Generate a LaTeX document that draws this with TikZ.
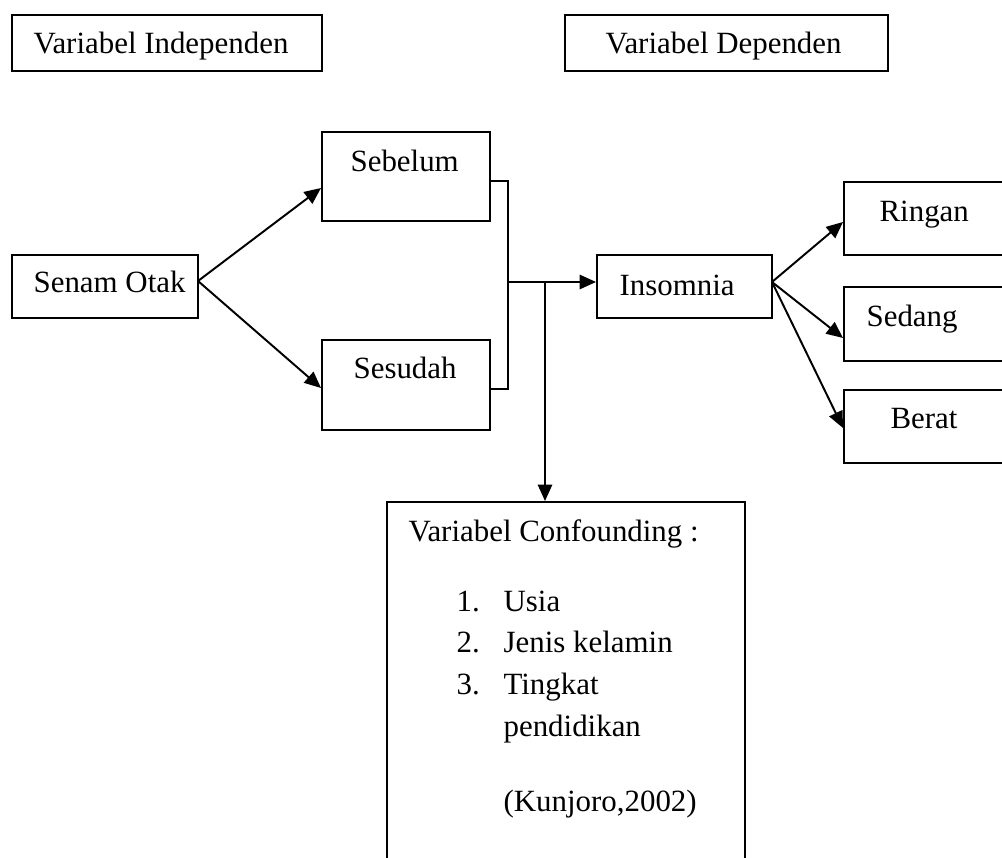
\documentclass[tikz,border=0pt]{standalone}
\usepackage{fontspec}
\setmainfont{Liberation Serif}
\usetikzlibrary{fit,arrows.meta}
\begin{document}
\begin{tikzpicture}[x=0.3333pt,y=-0.3333pt,
  box/.style={draw, line width=0.65pt, inner sep=0pt},
  txt/.style={anchor=base west, inner sep=0pt, font=\fontsize{10.3}{13.8}\selectfont},
  conn/.style={line width=0.65pt},
  arr/.style={line width=0.65pt, -{Triangle[length=5.5pt,width=4.8pt]}}]
\useasboundingbox (0,0) rectangle (1002,858);
\clip (0,0) rectangle (1002,858);
% boxes
\node[box, fit={(12,15) (322,71)}] (indep) {};
\node[box, fit={(565,15) (888,71)}] (dep) {};
\node[box, fit={(322,132) (490,221)}] (sebelum) {};
\node[box, fit={(322,340) (490,430)}] (sesudah) {};
\node[box, fit={(12,255) (198,318)}] (senam) {};
\node[box, fit={(597,255) (772,318)}] (insomnia) {};
\node[box, fit={(844,182) (1020,255)}] (ringan) {};
\node[box, fit={(844,287) (1020,361)}] (sedang) {};
\node[box, fit={(844,390) (1020,463)}] (berat) {};
\node[box, fit={(387,502) (745,880)}] (conf) {};
% texts
\node[txt] (tindep) at (33,54) {Variabel Independen};
\node[txt] (tdep) at (605,54) {Variabel Dependen};
\node[txt] (tsebelum) at (350,172) {Sebelum};
\node[txt] (tsesudah) at (353,379) {Sesudah};
\node[txt] (tsenam) at (33,293) {Senam Otak};
\node[txt] (tinsomnia) at (619,296) {Insomnia};
\node[txt] (tringan) at (879,222) {Ringan};
\node[txt] (tsedang) at (866,327) {Sedang};
\node[txt] (tberat) at (890,429) {Berat};
\node[txt] (tconf) at (408,542) {Variabel Confounding :};
\node[txt] (n1) at (456,612) {1.};
\node[txt] (i1) at (503,612) {Usia};
\node[txt] (n2) at (456,653) {2.};
\node[txt] (i2) at (503,653) {Jenis kelamin};
\node[txt] (n3) at (456,695) {3.};
\node[txt] (i3) at (503,695) {Tingkat};
\node[txt] (i3b) at (503,737) {pendidikan};
\node[txt] (src) at (503,812) {(Kunjoro,2002)};
% connectors
\coordinate (src0) at (198,281);
\draw[arr] (src0) -- (sebelum.west |- 0,188);
\draw[arr] (src0) -- (sesudah.west |- 0,388);
\coordinate (bx) at (508,282);
\coordinate (drop) at (545,282);
\draw[conn] (sebelum.east |- 0,181) -| (508,389) -- (sesudah.east |- 0,389);
\draw[arr] (bx) -- (insomnia.west |- bx);
\draw[arr] (drop) -- (drop |- conf.north);
\coordinate (ins) at (772,282);
\draw[arr] (ins) -- (ringan.west |- 0,222);
\draw[arr] (ins) -- (sedang.west |- 0,338);
\draw[arr] (ins) -- (berat.west |- 0,428);
\end{tikzpicture}
\end{document}
